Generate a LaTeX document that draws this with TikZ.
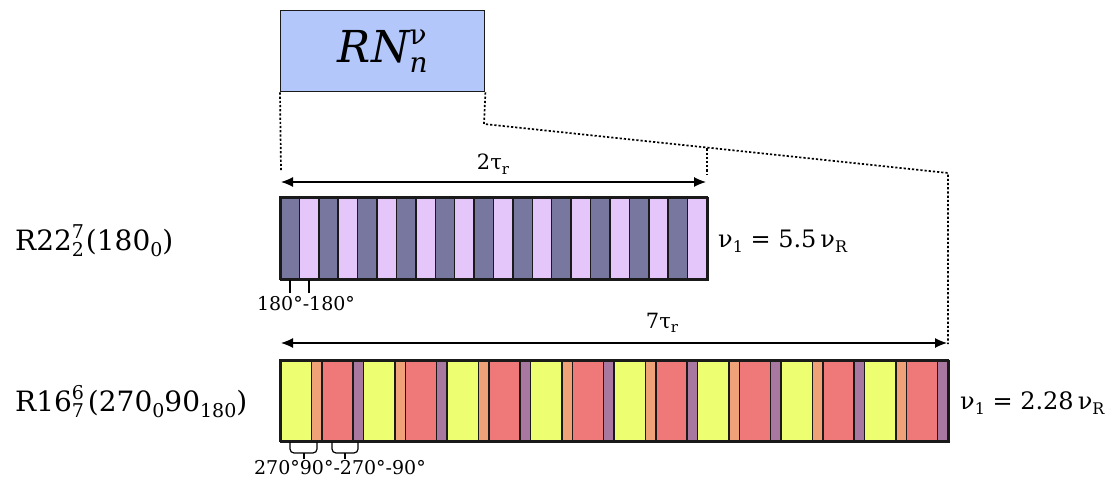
\documentclass[tikz,border=0pt]{standalone}
\usepackage{fontspec}
\setmainfont{DejaVu Serif}
\usetikzlibrary{arrows.meta}
\definecolor{boxblue}{HTML}{B4C7FA}
\definecolor{darkst}{HTML}{77779F}
\definecolor{lightst}{HTML}{E5C6FA}
\definecolor{yelst}{HTML}{EDFF70}
\definecolor{orast}{HTML}{EFA278}
\definecolor{redst}{HTML}{EF7878}
\definecolor{purst}{HTML}{A878A0}
\definecolor{edge}{HTML}{1A1A1A}
\newcommand\upx[2]{\raisebox{0.42em}{\fontsize{#1}{#1}\selectfont #2}}
\newcommand\dnx[2]{\raisebox{-0.22em}{\fontsize{#1}{#1}\selectfont #2}}
\newcommand\updnx[3]{\makebox[0pt][l]{\upx{#1}{#2}}\dnx{#1}{#3}}
\begin{document}
\begin{tikzpicture}[x=1pt,y=-1pt,
  stripe/.style={draw=edge,line width=1.5pt},
  barframe/.style={draw=edge,line width=1.8pt,inner sep=0pt,anchor=north west},
  dots/.style={line width=1.7pt,dash pattern=on 2.2pt off 2pt},
  span/.style={line width=1.2pt,{Latex[length=12pt,width=10pt]}-{Latex[length=12pt,width=10pt]}},
  tick/.style={line width=1.2pt},
  lab/.style={inner sep=0pt,font=\fontsize{28}{32}\selectfont},
  nulab/.style={inner sep=0pt,font=\fontsize{24}{28}\selectfont},
  small/.style={inner sep=0pt,font=\fontsize{19}{22}\selectfont},
  taulab/.style={inner sep=0pt,font=\fontsize{21}{24}\selectfont}]
\useasboundingbox (0,0) rectangle (1109,481);
% top box
\node[draw=edge,line width=1.4pt,fill=boxblue,minimum width=204pt,minimum height=81pt,inner sep=0pt,anchor=north west]
  (rn) at (280,10) {\fontsize{44}{48}\selectfont\itshape RN\updnx{28}{\upshape ν}{n}};
% row 1 stripes
\foreach \i in {0,2,...,20}
  \draw[stripe,fill=darkst] ({280+\i*427/22},197) rectangle ({280+(\i+1)*427/22},279);
\foreach \i in {1,3,...,21}
  \draw[stripe,fill=lightst] ({280+\i*427/22},197) rectangle ({280+(\i+1)*427/22},279);
\node[barframe,minimum width=427pt,minimum height=82pt] (bar1) at (280,197) {};
% row 2 stripes
\foreach \i in {0,2,...,14} {
  \draw[stripe,fill=yelst] ({280+\i*41.75},360) rectangle ({280+\i*41.75+31.31},441);
  \draw[stripe,fill=orast] ({280+\i*41.75+31.31},360) rectangle ({280+\i*41.75+41.75},441);
  \draw[stripe,fill=redst] ({280+\i*41.75+41.75},360) rectangle ({280+\i*41.75+73.06},441);
  \draw[stripe,fill=purst] ({280+\i*41.75+73.06},360) rectangle ({280+\i*41.75+83.5},441);
}
\node[barframe,minimum width=668pt,minimum height=81pt] (bar2) at (280,360) {};
% dotted projection lines
\coordinate (d1) at (281,172);
\coordinate (k1) at (484,124);
\coordinate (k2) at (948,173);
\coordinate (k3) at (948,344);
\coordinate (m1) at (707,148.5);
\coordinate (m2) at (707,174);
\draw[dots] (rn.south west) -- (d1);
\draw[dots] (rn.south east) -- (k1) -- (k2) -- (k3);
\draw[dots] (m1) -- (m2);
% spans
\coordinate (a1l) at (281,182);
\coordinate (a1r) at (706,182);
\coordinate (a2l) at (281,343);
\coordinate (a2r) at (947,343);
\draw[span] (a1l) -- (a1r);
\draw[span] (a2l) -- (a2r);
\node[taulab] (t1) at (493,164) {2τ\dnx{15}{r}};
\node[taulab] (t2) at (662,323) {7τ\dnx{15}{r}};
% labels
\node[lab,anchor=west] (l1) at (15,241) {R22\updnx{19}{7}{2}\hspace{2pt}(180\dnx{19}{0})};
\node[lab,anchor=west] (l2) at (15,402) {R16\updnx{19}{6}{7}\hspace{4pt}(270\dnx{19}{0}90\dnx{19}{180})};
\node[nulab,anchor=west] (n1) at (718,241) {ν\dnx{16}{1} = 5.5\,ν\dnx{16}{R}};
\node[nulab,anchor=west] (n2) at (960,403) {ν\dnx{16}{1} = 2.28\,ν\dnx{16}{R}};
% row 1 ticks
\coordinate (p1) at (290,280);
\coordinate (p2) at (309,280);
\draw[tick] (p1) -- ++(0,13);
\draw[tick] (p2) -- ++(0,13);
\node[small] (ang1) at (306,304) {180°-180°};
% row 2 brackets
\coordinate (b1) at (290,442);
\coordinate (b2) at (332,442);
\draw[tick,rounded corners=4pt] (b1) -- ++(0,11) -- ++(27,0) -- ++(0,-11);
\draw[tick] ([xshift=14pt]b1) ++(0,11) -- ++(0,6);
\draw[tick,rounded corners=4pt] (b2) -- ++(0,11) -- ++(26,0) -- ++(0,-11);
\draw[tick] ([xshift=13pt]b2) ++(0,11) -- ++(0,6);
\node[small] (ang2) at (340,468) {270°90°-270°-90°};
\end{tikzpicture}
\end{document}
